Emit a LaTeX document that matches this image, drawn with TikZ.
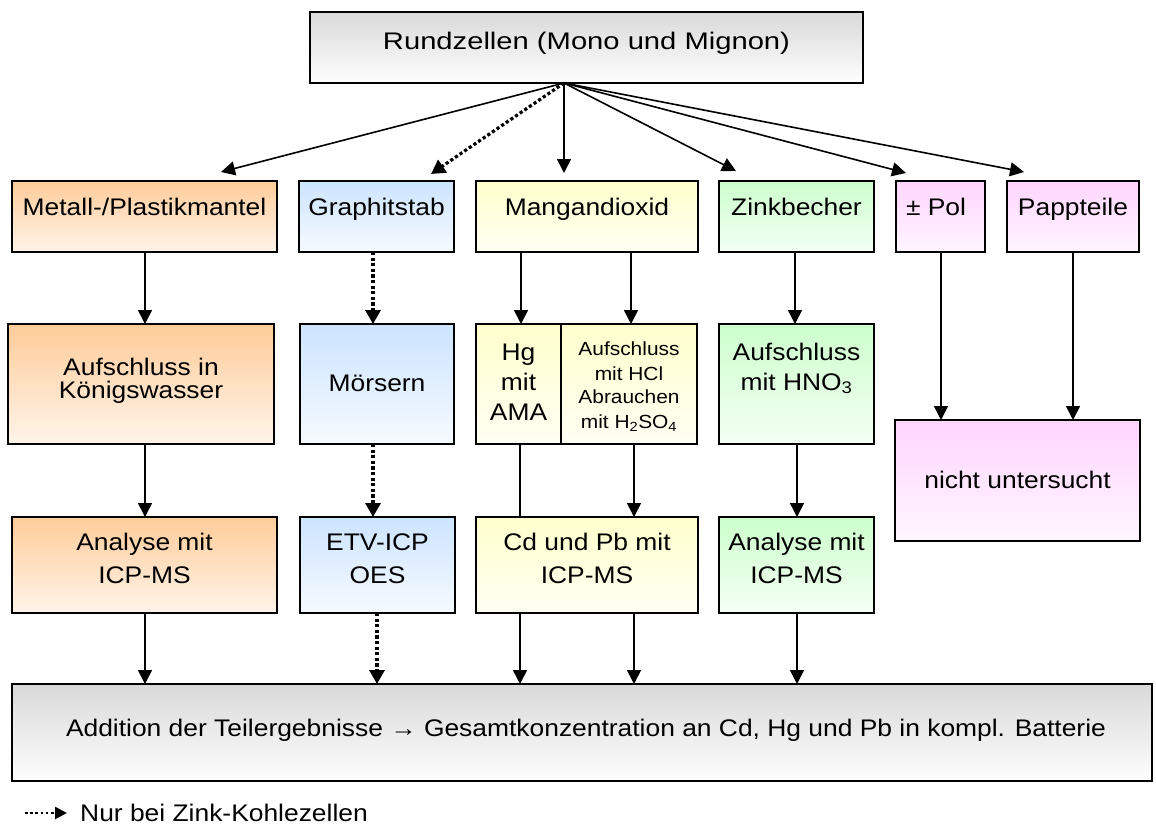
\documentclass[tikz,border=0pt]{standalone}
\usepackage{graphicx}
\usepackage{fontspec}
\setmainfont[FakeStretch=1.1]{Liberation Sans}
\usetikzlibrary{arrows.meta}
\definecolor{orT}{HTML}{FFCC99}
\definecolor{orB}{HTML}{FFF4EA}
\definecolor{blT}{HTML}{CCE4FF}
\definecolor{blB}{HTML}{F6FAFF}
\definecolor{yeT}{HTML}{FFFFCC}
\definecolor{yeB}{HTML}{FFFFF4}
\definecolor{grT}{HTML}{CCFFCC}
\definecolor{grB}{HTML}{F4FFF4}
\definecolor{piT}{HTML}{FFD5FF}
\definecolor{piB}{HTML}{FFF6FF}
\definecolor{gyT}{HTML}{D9D9D9}
\definecolor{gyB}{HTML}{FEFEFE}
\newcommand{\bx}[6]{\node[boxst,#6,minimum width={(#4-#2)*1pt},minimum height={(#5-#3)*1pt}] (#1) at ({(#2+#4)/2},{(#3+#5)/2}) {};}
\begin{document}
\begin{tikzpicture}[x=1pt,y=-1pt,
  boxst/.style={draw=black,line width=1.6pt,inner sep=0pt,outer sep=0pt},
  orb/.style={top color=orT,bottom color=orB},
  blb/.style={top color=blT,bottom color=blB},
  yeb/.style={top color=yeT,bottom color=yeB},
  grb/.style={top color=grT,bottom color=grB},
  pib/.style={top color=piT,bottom color=piB},
  gyb/.style={top color=gyT,bottom color=gyB},
  txt/.style={inner sep=0pt,anchor=base,font=\fontsize{24}{28}\selectfont},
  stxt/.style={inner sep=0pt,anchor=base,font=\fontsize{19}{22}\selectfont},
  arr/.style={line width=1.6pt,-{Triangle[length=14pt,width=14pt]}},
  dotarr/.style={line width=3.2pt,dash pattern=on 3.2pt off 2.4pt,-{Triangle[length=14pt,width=15pt]}},
  ln/.style={line width=1.6pt}]
\useasboundingbox (0,0) rectangle (1156,832);
% boxes
\bx{top}{310}{12}{863}{83}{gyb}
\bx{m1}{12}{181}{277}{252}{orb}
\bx{g1}{299}{181}{454}{252}{blb}
\bx{y1}{476}{181}{698}{252}{yeb}
\bx{z1}{719}{181}{874}{252}{grb}
\bx{p1}{896}{181}{985}{252}{pib}
\bx{q1}{1007}{181}{1139}{252}{pib}
\bx{m2}{8}{324}{274}{444}{orb}
\bx{g2}{300}{324}{454}{444}{blb}
\bx{hg}{476}{324}{561}{444}{yeb}
\bx{hcl}{561}{324}{697}{444}{yeb}
\bx{z2}{719}{324}{874}{444}{grb}
\bx{nu}{895}{420}{1140}{541}{pib}
\bx{m3}{12}{517}{277}{613}{orb}
\bx{g3}{300}{517}{455}{613}{blb}
\bx{y3}{476}{517}{698}{613}{yeb}
\bx{z3}{719}{517}{874}{613}{grb}
\bx{bot}{12}{684}{1152}{781}{gyb}
% texts
\node[txt] (tTop) at (586.5,50) {\scalebox{1.105}[1]{Rundzellen (Mono und Mignon)}};
\node[txt] (tm1) at (144.5,215.7) {Metall-/Plastikmantel};
\node[txt] (tg1) at (376.5,215.7) {Graphitstab};
\node[txt] (ty1) at (587,215.7) {Mangandioxid};
\node[txt] (tz1) at (796.5,215.7) {Zinkbecher};
\node[txt] (tp1) at (936,215.7) {± Pol};
\node[txt] (tq1) at (1073,215.7) {Pappteile};
\node[txt] (tm2a) at (141,375) {Aufschluss in};
\node[txt] (tm2b) at (141,398.3) {Königswasser};
\node[txt] (tg2) at (377,391.7) {Mörsern};
\node[txt] (thga) at (518.5,360) {Hg};
\node[txt] (thgb) at (518.5,390) {mit};
\node[txt] (thgc) at (518.5,420.7) {AMA};
\node[stxt] (thca) at (629,355) {Aufschluss};
\node[stxt] (thcb) at (629,380) {mit HCl};
\node[stxt] (thcc) at (629,403.5) {Abrauchen};
\node[stxt] (thcd) at (629,428.3) {mit H\textsubscript{2}SO\textsubscript{4}};
\node[txt] (tz2a) at (796.5,360) {Aufschluss};
\node[txt] (tz2b) at (796.5,390) {mit HNO\textsubscript{3}};
\node[txt] (tnu) at (1017.5,488.3) {nicht untersucht};
\node[txt] (tm3a) at (144.5,550.7) {Analyse mit};
\node[txt] (tm3b) at (144.5,583.3) {ICP-MS};
\node[txt] (tg3a) at (377.5,550.7) {ETV-ICP};
\node[txt] (tg3b) at (377.5,583.3) {OES};
\node[txt] (ty3a) at (587,550.7) {Cd und Pb mit};
\node[txt] (ty3b) at (587,583.3) {ICP-MS};
\node[txt] (tz3a) at (796.5,550.7) {Analyse mit};
\node[txt] (tz3b) at (796.5,583.3) {ICP-MS};
\node[txt] (tbot) at (586,736) {Addition der Teilergebnisse → Gesamtkonzentration an Cd, Hg und Pb in kompl. Batterie};
% fan connectors
\coordinate (o) at (564,83);
\coordinate (t1) at (221,172);
\coordinate (t2) at (431,174);
\coordinate (t3) at (564,173);
\coordinate (t4) at (736,171);
\coordinate (t5) at (906,173);
\coordinate (t6) at (1024,172);
\draw[arr] (o) -- (t1);
\draw[dotarr] (o) -- (t2);
\draw[arr] (o) -- (t3);
\draw[arr] (o) -- (t4);
\draw[arr] (o) -- (t5);
\draw[arr] (o) -- (t6);
% column x positions
\coordinate (xa) at (145,0);
\coordinate (xb) at (373,0);
\coordinate (xb2) at (377,0);
\coordinate (xc) at (521,0);
\coordinate (xc2) at (520,0);
\coordinate (xd) at (631,0);
\coordinate (xd2) at (634,0);
\coordinate (xe) at (795,0);
\coordinate (xe2) at (797,0);
\coordinate (xf) at (941,0);
\coordinate (xg) at (1073,0);
% row 1 -> row 2
\draw[arr] (m1.south -| xa) -- (m2.north -| xa);
\draw[dotarr] (g1.south -| xb) -- (g2.north -| xb);
\draw[arr] (y1.south -| xc) -- (hg.north -| xc);
\draw[arr] (y1.south -| xd) -- (hcl.north -| xd);
\draw[arr] (z1.south -| xe) -- (z2.north -| xe);
\draw[arr] (p1.south -| xf) -- (nu.north -| xf);
\draw[arr] (q1.south -| xg) -- (nu.north -| xg);
% row 2 -> row 3
\draw[arr] (m2.south -| xa) -- (m3.north -| xa);
\draw[dotarr] (g2.south -| xb) -- (g3.north -| xb);
\draw[ln] (hg.south -| xc2) -- (y3.north -| xc2);
\draw[arr] (hcl.south -| xd2) -- (y3.north -| xd2);
\draw[arr] (z2.south -| xe2) -- (z3.north -| xe2);
% row 3 -> bottom
\draw[arr] (m3.south -| xa) -- (bot.north -| xa);
\draw[dotarr] (g3.south -| xb2) -- (bot.north -| xb2);
\draw[arr] (y3.south -| xc2) -- (bot.north -| xc2);
\draw[arr] (y3.south -| xd2) -- (bot.north -| xd2);
\draw[arr] (z3.south -| xe2) -- (bot.north -| xe2);
% legend
\coordinate (l1) at (25,813);
\coordinate (l2) at (67,813);
\draw[line width=2.6pt,dash pattern=on 2.6pt off 2.6pt,-{Triangle[length=12pt,width=12pt]}] (l1) -- (l2);
\node[txt,anchor=base west] (tleg) at (80,821.5) {Nur bei Zink-Kohlezellen};
\end{tikzpicture}
\end{document}
